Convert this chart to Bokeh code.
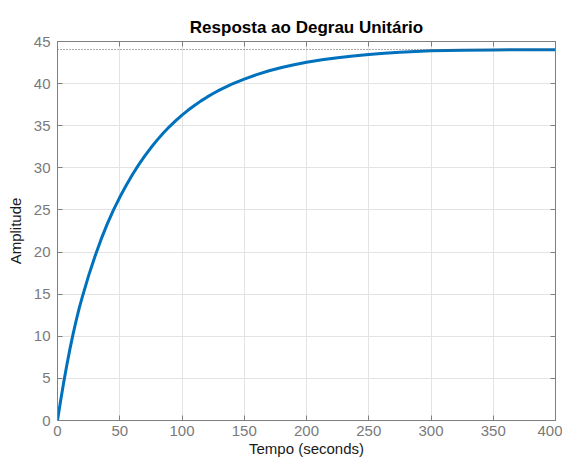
from bokeh.plotting import figure
from bokeh.models import LinearAxis, Range1d, Span, FixedTicker
from bokeh.embed import file_html
from bokeh.resources import INLINE

time_s = [0, 2.5, 5, 7.5, 10, 12.5, 15, 17.5, 20,
          25, 30, 35, 40, 45, 50, 55, 60, 65, 70, 75, 80, 85, 90, 95, 100,
          105, 110, 115, 120, 125, 130, 135, 140, 145, 150,
          160, 170, 180, 190, 200,
          212.5, 225, 237.5, 250, 262.5, 275, 287.5, 300,
          325, 350, 375, 400]
amplitude = [0, 2.35, 4.55, 6.6, 8.5, 10.25, 11.87, 13.37, 14.7,
             17.2, 19.45, 21.5, 23.35, 25.0, 26.5, 27.88, 29.15, 30.32, 31.39,
             32.38, 33.29, 34.13, 34.9, 35.61, 36.26,
             36.86, 37.41, 37.92, 38.39, 38.82, 39.22, 39.59, 39.93, 40.24, 40.53,
             41.07, 41.53, 41.92, 42.25, 42.53,
             42.83, 43.08, 43.29, 43.46, 43.6, 43.72, 43.82, 43.9,
             43.96, 44.0, 44.02, 44.03]
final_value = 44.05

x_ticks = [0, 50, 100, 150, 200, 250, 300, 350, 400]
y_ticks = [0, 5, 10, 15, 20, 25, 30, 35, 40, 45]

title_text = "Resposta ao Degrau Unitário"
x_label = "Tempo (seconds)"
y_label = "Amplitude"

FONT = "Liberation Sans"
AX_COL = "#808080"
GRID_COL = "#e3e3e3"

p = figure(width=562, height=459, output_backend="svg", toolbar_location=None,
           x_range=Range1d(0, 400), y_range=Range1d(0, 45),
           min_border_left=57, min_border_right=7, min_border_top=41,
           min_border_bottom=30, background_fill_color="white",
           border_fill_color="white")

p.title.text = title_text
p.title.align = "center"
p.title.text_font = FONT
p.title.text_font_size = "17px"
p.title.text_font_style = "bold"
p.title.text_color = "#000000"
p.title.offset = 0
p.title.standoff = 10

p.outline_line_color = AX_COL
p.outline_line_width = 1

for ax in p.xaxis + p.yaxis:
    ax.ticker = FixedTicker(ticks=x_ticks if ax in p.xaxis else y_ticks)
    ax.axis_line_color = AX_COL
    ax.major_tick_line_color = AX_COL
    ax.minor_tick_line_color = None
    ax.major_tick_in = 5
    ax.major_tick_out = 0
    ax.major_label_text_font = FONT
    ax.major_label_text_font_size = "15px"
    ax.major_label_text_color = "#7a7a7a"
    ax.axis_label_text_font = FONT
    ax.axis_label_text_font_size = "15px"
    ax.axis_label_text_font_style = "normal"
    ax.axis_label_text_color = "#1a1a1a"

p.xaxis.axis_label = x_label
p.yaxis.axis_label = y_label
p.xaxis.major_label_standoff = 5
p.xaxis.axis_label_standoff = 1
p.yaxis.major_label_standoff = 7
p.yaxis.axis_label_standoff = 7

# box ticks on top and right
top_ax = LinearAxis(ticker=FixedTicker(ticks=x_ticks))
right_ax = LinearAxis(ticker=FixedTicker(ticks=y_ticks))
for ax in (top_ax, right_ax):
    ax.axis_line_color = AX_COL
    ax.major_tick_line_color = AX_COL
    ax.minor_tick_line_color = None
    ax.major_tick_in = 5
    ax.major_tick_out = 0
    ax.major_label_text_font_size = "0px"
    ax.major_label_standoff = 0
    ax.major_label_text_alpha = 0
p.add_layout(top_ax, "above")
p.add_layout(right_ax, "right")

p.xgrid.ticker = FixedTicker(ticks=x_ticks)
p.ygrid.ticker = FixedTicker(ticks=y_ticks)
p.grid.grid_line_color = GRID_COL
p.grid.grid_line_width = 1

ss = Span(location=final_value, dimension="width", line_color="#555555",
          line_dash="1 2", line_width=1)
p.add_layout(ss)

p.line(time_s, amplitude, line_color="#0072BD", line_width=3,
       line_join="round")

open("out.html", "w").write(file_html(p, INLINE))
